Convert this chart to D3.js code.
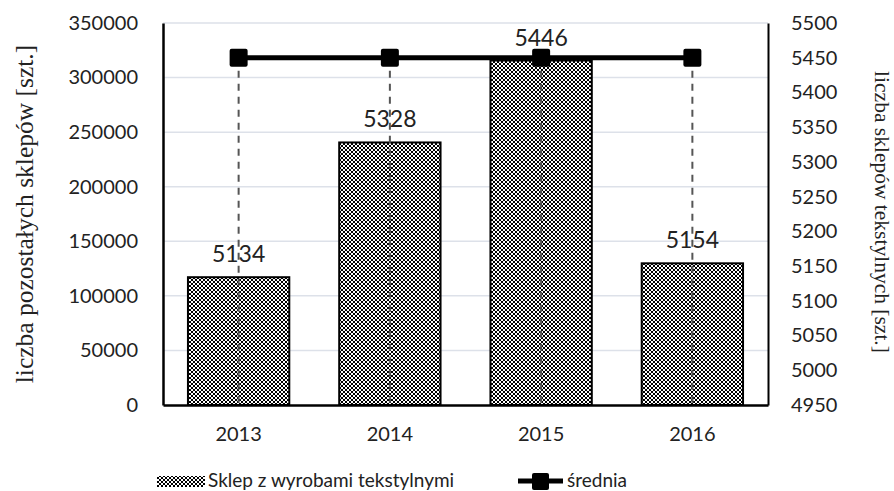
<!DOCTYPE html>
<html>
<head>
<meta charset="utf-8">
<script src="https://cdn.jsdelivr.net/npm/d3@7"></script>
<style>
  body { margin: 0; background: #fff; }
  svg { display: block; }
</style>
</head>
<body>
<div id="chart"></div>
<script>
const years = ['2013', '2014', '2015', '2016'];
const textileShops = [5134, 5328, 5446, 5154];
const average = [5450, 5450, 5450, 5450];
const leftTicks = [0, 50000, 100000, 150000, 200000, 250000, 300000, 350000];
const rightTicks = [4950, 5000, 5050, 5100, 5150, 5200, 5250, 5300, 5350, 5400, 5450, 5500];

const W = 894, H = 491;
const margin = { top: 23, right: 126, bottom: 86, left: 163 };
const width = W - margin.left - margin.right;
const height = H - margin.top - margin.bottom;
const FONT = 'Lato, "Open Sans", sans-serif';
const SERIF = '"Liberation Serif", "Times New Roman", serif';

const svgRoot = d3.select('#chart').append('svg')
  .attr('width', W)
  .attr('height', H);

// excel-ish checker fill
const defs = svgRoot.append('defs');
const pat = defs.append('pattern')
  .attr('id', 'dots')
  .attr('width', 4).attr('height', 4)
  .attr('patternUnits', 'userSpaceOnUse');
pat.append('rect').attr('width', 4).attr('height', 4).attr('fill', '#fff');
pat.append('rect').attr('x', 0).attr('y', 0).attr('width', 2).attr('height', 2).attr('fill', '#000');
pat.append('rect').attr('x', 2).attr('y', 2).attr('width', 2).attr('height', 2).attr('fill', '#000');

const svg = svgRoot.append('g')
  .attr('transform', `translate(${margin.left},${margin.top})`);

const x = d3.scaleBand().domain(years).range([0, width]).paddingInner(0.33).paddingOuter(0.165);
const yLeft = d3.scaleLinear().domain([0, 350000]).range([height, 0]);
const yRight = d3.scaleLinear().domain([4950, 5500]).range([height, 0]);

// gridlines
svg.append('g')
  .selectAll('line')
  .data(leftTicks.slice(1))
  .join('line')
  .attr('x1', 0).attr('x2', width)
  .attr('y1', d => yLeft(d)).attr('y2', d => yLeft(d))
  .attr('stroke', '#dde1e9')
  .attr('stroke-width', 1.5);

// left axis
const leftAxis = svg.append('g')
  .call(d3.axisLeft(yLeft).tickValues(leftTicks).tickFormat(d3.format('d')).tickSize(0).tickPadding(25));
leftAxis.select('.domain').attr('stroke', '#000').attr('stroke-width', 2.5);
leftAxis.selectAll('text').attr('font-family', FONT).attr('font-size', 20).attr('fill', '#222');

// right axis
const rightAxis = svg.append('g')
  .attr('transform', `translate(${width},0)`)
  .call(d3.axisRight(yRight).tickValues(rightTicks).tickFormat(d3.format('d')).tickSize(0).tickPadding(23));
rightAxis.select('.domain').attr('stroke', '#000').attr('stroke-width', 2);
rightAxis.selectAll('text').attr('font-family', FONT).attr('font-size', 20).attr('fill', '#222');

// bars
svg.append('g')
  .selectAll('rect')
  .data(years)
  .join('rect')
  .attr('x', d => x(d))
  .attr('width', x.bandwidth())
  .attr('y', (d, i) => yRight(textileShops[i]))
  .attr('height', (d, i) => height - yRight(textileShops[i]))
  .attr('fill', 'url(#dots)')
  .attr('stroke', '#000')
  .attr('stroke-width', 2);

// drop lines
svg.append('g')
  .selectAll('line')
  .data(years)
  .join('line')
  .attr('x1', d => x(d) + x.bandwidth() / 2)
  .attr('x2', d => x(d) + x.bandwidth() / 2)
  .attr('y1', (d, i) => yRight(average[i]))
  .attr('y2', height)
  .attr('stroke', '#555')
  .attr('stroke-width', 2)
  .attr('stroke-dasharray', '7,6');

// bottom axis
const bottomAxis = svg.append('g')
  .attr('transform', `translate(0,${height})`)
  .call(d3.axisBottom(x).tickSize(0).tickPadding(22));
bottomAxis.select('.domain').attr('stroke', '#000').attr('stroke-width', 2.5);
bottomAxis.selectAll('text').attr('font-family', FONT).attr('font-size', 20).attr('fill', '#222');

// average line
const line = d3.line()
  .x((d, i) => x(years[i]) + x.bandwidth() / 2)
  .y(d => yRight(d));
svg.append('path')
  .datum(average)
  .attr('d', line)
  .attr('fill', 'none')
  .attr('stroke', '#000')
  .attr('stroke-width', 5);
svg.append('g')
  .selectAll('rect')
  .data(average)
  .join('rect')
  .attr('x', (d, i) => x(years[i]) + x.bandwidth() / 2 - 9)
  .attr('y', d => yRight(d) - 9)
  .attr('width', 18).attr('height', 18)
  .attr('rx', 2)
  .attr('fill', '#000');

// data labels
svg.append('g')
  .selectAll('text')
  .data(years)
  .join('text')
  .attr('x', d => x(d) + x.bandwidth() / 2)
  .attr('y', (d, i) => yRight(textileShops[i]) - 15)
  .attr('text-anchor', 'middle')
  .attr('font-family', FONT)
  .attr('font-size', 23)
  .attr('fill', '#222')
  .text((d, i) => textileShops[i]);

// axis titles
svgRoot.append('text')
  .attr('transform', `translate(33,214) rotate(-90)`)
  .attr('text-anchor', 'middle')
  .attr('font-family', SERIF)
  .attr('font-size', 25.5)
  .attr('fill', '#222')
  .text('liczba pozostałych sklepów [szt.]');

svgRoot.append('text')
  .attr('transform', `translate(875,212) rotate(90)`)
  .attr('text-anchor', 'middle')
  .attr('font-family', SERIF)
  .attr('font-size', 21.5)
  .attr('fill', '#222')
  .text('liczba sklepów tekstylnych [szt.]');

// legend
const legend = svgRoot.append('g').attr('transform', 'translate(157,481)');
legend.append('rect')
  .attr('x', 0).attr('y', -5).attr('width', 48).attr('height', 11)
  .attr('fill', 'url(#dots)');
legend.append('text')
  .attr('x', 51).attr('y', 6)
  .attr('font-family', FONT).attr('font-size', 19).attr('fill', '#222')
  .text('Sklep z wyrobami tekstylnymi');
legend.append('line')
  .attr('x1', 361).attr('x2', 406).attr('y1', 0).attr('y2', 0)
  .attr('stroke', '#000').attr('stroke-width', 5);
legend.append('rect')
  .attr('x', 375).attr('y', -8).attr('width', 17).attr('height', 17).attr('rx', 2)
  .attr('fill', '#000');
legend.append('text')
  .attr('x', 410).attr('y', 6)
  .attr('font-family', FONT).attr('font-size', 19).attr('fill', '#222')
  .text('średnia');
</script>
</body>
</html>
